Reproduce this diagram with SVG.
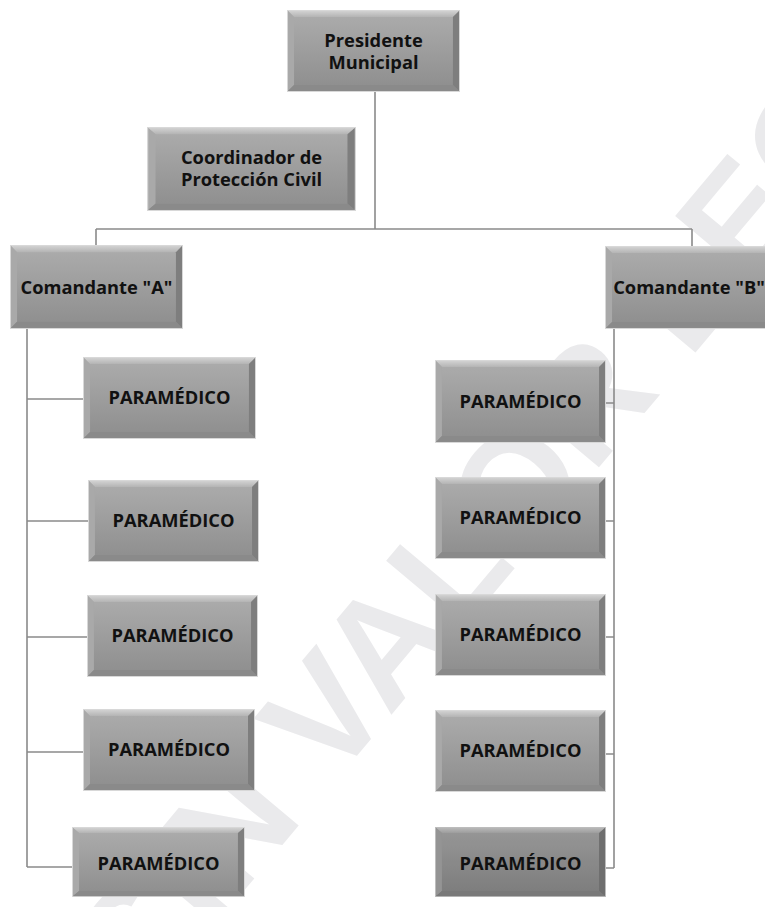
<svg xmlns="http://www.w3.org/2000/svg" xmlns:xlink="http://www.w3.org/1999/xlink" width="765" height="907" viewBox="0 0 765 907">
<defs>
<linearGradient id="face" x1="0" y1="0" x2="0" y2="1">
<stop offset="0" stop-color="#adadad"/>
<stop offset="1" stop-color="#8d8d8d"/>
</linearGradient>
<linearGradient id="topbev" x1="0" y1="0" x2="0" y2="1">
<stop offset="0" stop-color="#d6d6d6"/>
<stop offset="1" stop-color="#b4b4b4"/>
</linearGradient>
<symbol id="box" viewBox="0 0 172 82" preserveAspectRatio="none">
<rect x="0" y="0" width="172" height="82" fill="url(#face)"/>
<polygon points="0,0 172,0 165,7 7,7" fill="url(#topbev)"/>
<polygon points="0,0 7,7 7,75 0,82" fill="#a9a9a9"/>
<polygon points="172,0 172,82 165,75 165,7" fill="#7e7e7e"/>
<polygon points="0,82 172,82 165,75 7,75" fill="#8a8a8a"/>
<rect x="0.5" y="0.5" width="171" height="81" fill="none" stroke="#d8d8d8" stroke-width="1"/>
</symbol>
<style>
.t{font-family:"Open Sans","Liberation Sans",sans-serif;font-weight:700;font-size:18.3px;fill:#111;text-anchor:middle}
.c{fill:none;stroke:#8a8a8a;stroke-width:1.6}
.wm{font-family:"Liberation Sans",sans-serif;font-weight:700;font-size:150px;fill:#eaeaec;text-anchor:middle}
.dark{fill:#000;opacity:0.12}
</style>
</defs>
<rect width="765" height="907" fill="#ffffff"/>
<text class="wm" transform="translate(580,490) rotate(-50)">SIN VALOR LEGAL</text>
<g id="connectors">
<path class="c" d="M375,92 V229 M96,229 H692 M96,229 V245 M692,229 V246"/>
<path class="c" d="M27,329 V867 M27,399 H83 M27,521 H88 M27,637 H87 M27,752 H83 M27,867 H72"/>
<path class="c" d="M614,329 V868 M606,403 H614 M606,521 H614 M606,637 H614 M606,754 H614 M606,868 H614"/>
</g>
<g id="presidente">
<use xlink:href="#box" x="287" y="10" width="173" height="82"/>
<text class="t" x="373.5" y="47">Presidente<tspan x="373.5" dy="22">Municipal</tspan></text>
</g>
<g id="coordinador">
<use xlink:href="#box" x="147" y="127" width="209" height="84"/>
<text class="t" x="251.5" y="164">Coordinador de<tspan x="251.5" dy="22">Protección Civil</tspan></text>
</g>
<g id="comandante-a">
<use xlink:href="#box" x="10" y="245" width="173" height="84"/>
<text class="t" x="96.5" y="294">Comandante "A"</text>
</g>
<g id="comandante-b">
<use xlink:href="#box" x="605" y="246" width="173" height="83"/>
<text class="t" x="689" y="294">Comandante "B"</text>
</g>
<g id="param-a1">
<use xlink:href="#box" x="83" y="357" width="173" height="82"/>
<text class="t" x="169.5" y="404">PARAMÉDICO</text>
</g>
<g id="param-a2">
<use xlink:href="#box" x="88" y="480" width="171" height="82"/>
<text class="t" x="173.5" y="527">PARAMÉDICO</text>
</g>
<g id="param-a3">
<use xlink:href="#box" x="87" y="595" width="171" height="82"/>
<text class="t" x="172.5" y="642">PARAMÉDICO</text>
</g>
<g id="param-a4">
<use xlink:href="#box" x="83" y="709" width="172" height="82"/>
<text class="t" x="169" y="756">PARAMÉDICO</text>
</g>
<g id="param-a5">
<use xlink:href="#box" x="72" y="827" width="173" height="70"/>
<text class="t" x="158.5" y="870">PARAMÉDICO</text>
</g>
<g id="param-b1">
<use xlink:href="#box" x="435" y="360" width="171" height="83"/>
<text class="t" x="520.5" y="408">PARAMÉDICO</text>
</g>
<g id="param-b2">
<use xlink:href="#box" x="435" y="477" width="171" height="82"/>
<text class="t" x="520.5" y="524">PARAMÉDICO</text>
</g>
<g id="param-b3">
<use xlink:href="#box" x="435" y="594" width="171" height="82"/>
<text class="t" x="520.5" y="641">PARAMÉDICO</text>
</g>
<g id="param-b4">
<use xlink:href="#box" x="435" y="710" width="171" height="82"/>
<text class="t" x="520.5" y="757">PARAMÉDICO</text>
</g>
<g id="param-b5">
<use xlink:href="#box" x="435" y="827" width="171" height="70"/>
<rect class="dark" x="435" y="827" width="171" height="70"/>
<text class="t" x="520.5" y="870">PARAMÉDICO</text>
</g>
</svg>
